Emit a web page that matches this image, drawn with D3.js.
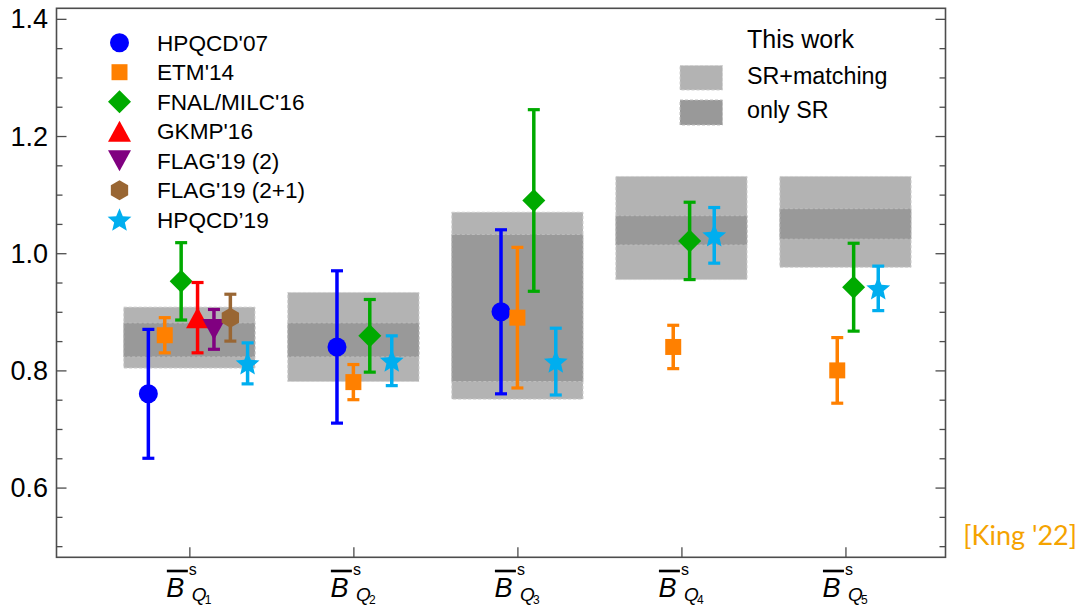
<!DOCTYPE html>
<html>
<head>
<meta charset="utf-8">
<script src="https://cdn.jsdelivr.net/npm/d3@7"></script>
<style>
  html, body { margin: 0; padding: 0; background: #fff; }
  svg { display: block; }
  text { font-family: "Liberation Sans", Arial, Helvetica, sans-serif; }
</style>
</head>
<body>
<svg id="chart" width="1081" height="606"></svg>
<script>
// ---- data -------------------------------------------------------------
const categories = [1, 2, 3, 4, 5];            // Q1 ... Q5
const yTicksMajor = [0.6, 0.8, 1.0, 1.2, 1.4];
const yTicksMinor = [0.5, 0.55, 0.65, 0.7, 0.75, 0.85, 0.9, 0.95, 1.05, 1.1, 1.15, 1.25, 1.3, 1.35];

// "This work": SR+matching band and only-SR band per operator
const bandFullLo = [0.804, 0.781, 0.751, 0.955, 0.976];
const bandFullHi = [0.908, 0.933, 1.070, 1.131, 1.131];
const bandSrLo   = [0.823, 0.823, 0.781, 1.014, 1.024];
const bandSrHi   = [0.881, 0.881, 1.032, 1.064, 1.076];

// literature results: category, horizontal offset, value, error
const hpqcd07Cat = [1, 2, 3];
const hpqcd07Off = [-0.25, -0.10, -0.10];
const hpqcd07Val = [0.76, 0.84, 0.90];
const hpqcd07Err = [0.11, 0.13, 0.14];

const etm14Cat = [1, 2, 3, 4, 5];
const etm14Off = [-0.15, 0.0, 0.0, -0.05, -0.05];
const etm14Val = [0.86, 0.78, 0.89, 0.84, 0.80];
const etm14Err = [0.03, 0.03, 0.12, 0.037, 0.056];

const fnal16Cat = [1, 2, 3, 4, 5];
const fnal16Off = [-0.05, 0.10, 0.10, 0.05, 0.05];
const fnal16Val = [0.952, 0.859, 1.09, 1.021, 0.942];
const fnal16Err = [0.066, 0.062, 0.155, 0.066, 0.075];

const gkmp16Cat = [1];
const gkmp16Off = [0.05];
const gkmp16Val = [0.89];
const gkmp16Err = [0.06];

const flag2Cat = [1];
const flag2Off = [0.15];
const flag2Val = [0.87];
const flag2Err = [0.034];

const flag21Cat = [1];
const flag21Off = [0.25];
const flag21Val = [0.89];
const flag21Err = [0.04];

const hpqcd19Cat = [1, 2, 3, 4, 5];
const hpqcd19Off = [0.355, 0.234, 0.234, 0.20, 0.20];
const hpqcd19Val = [0.812, 0.8165, 0.815, 1.0305, 0.94];
const hpqcd19Err = [0.035, 0.0425, 0.057, 0.0475, 0.038];

const seriesNames  = ["HPQCD'07", "ETM'14", "FNAL/MILC'16", "GKMP'16", "FLAG'19 (2)", "FLAG'19 (2+1)", "HPQCD\u201919"];
const seriesColors = ["#0000ff", "#ff8000", "#00aa00", "#ff0000", "#800080", "#996633", "#00aeef"];
const seriesShapes = ["circle", "square", "diamond", "triUp", "triDown", "hexagon", "star"];

const seriesData = [
  [hpqcd07Cat, hpqcd07Off, hpqcd07Val, hpqcd07Err],
  [etm14Cat, etm14Off, etm14Val, etm14Err],
  [fnal16Cat, fnal16Off, fnal16Val, fnal16Err],
  [gkmp16Cat, gkmp16Off, gkmp16Val, gkmp16Err],
  [flag2Cat, flag2Off, flag2Val, flag2Err],
  [flag21Cat, flag21Off, flag21Val, flag21Err],
  [hpqcd19Cat, hpqcd19Off, hpqcd19Val, hpqcd19Err]
];

// ---- layout -----------------------------------------------------------
const svg = d3.select("#chart");
const plotL = 56.5, plotR = 945.5, plotT = 8.3, plotB = 557.3;

const x = d3.scaleLinear().domain([0.19, 5.61]).range([plotL, plotR]);
const y = d3.scaleLinear().domain([0.481, 1.418]).range([plotB, plotT]);

const halfBox = 0.4;

// marker paths centred at the origin
function markerPath(shape) {
  switch (shape) {
    case "circle": {
      const r = 9.5;
      return `M${r},0A${r},${r} 0 1,1 ${-r},0A${r},${r} 0 1,1 ${r},0Z`;
    }
    case "square": {
      const h = 8;
      return `M${-h},${-h}L${h},${-h}L${h},${h}L${-h},${h}Z`;
    }
    case "diamond": {
      const h = 11.5;
      return `M0,${-h}L${h},0L0,${h}L${-h},0Z`;
    }
    case "triUp": {
      const w = 11.5, h = 10.5;
      return `M0,${-h}L${w},${h}L${-w},${h}Z`;
    }
    case "triDown": {
      const w = 11.5, h = 10.5;
      return `M0,${h}L${w},${-h}L${-w},${-h}Z`;
    }
    case "hexagon": {
      const r = 10;
      const pts = d3.range(6).map(i => {
        const a = -Math.PI / 2 + i * Math.PI / 3;
        return [r * Math.cos(a), r * Math.sin(a)];
      });
      return "M" + pts.map(p => p.join(",")).join("L") + "Z";
    }
    case "star": {
      const R = 12.5, r0 = R * 0.45;
      const pts = d3.range(10).map(i => {
        const a = -Math.PI / 2 + i * Math.PI / 5;
        const rr = i % 2 === 0 ? R : r0;
        return [rr * Math.cos(a), rr * Math.sin(a) + 1];
      });
      return "M" + pts.map(p => p.join(",")).join("L") + "Z";
    }
  }
}

// ---- bands ------------------------------------------------------------
const bands = svg.append("g");
categories.forEach((c, i) => {
  bands.append("rect")
    .attr("x", x(c - halfBox)).attr("width", x(c + halfBox) - x(c - halfBox))
    .attr("y", y(bandFullHi[i])).attr("height", y(bandFullLo[i]) - y(bandFullHi[i]))
    .attr("fill", "#b3b3b3")
    .attr("stroke", "#d0d0d0").attr("stroke-width", 1).attr("stroke-dasharray", "3,2");
  bands.append("rect")
    .attr("x", x(c - halfBox)).attr("width", x(c + halfBox) - x(c - halfBox))
    .attr("y", y(bandSrHi[i])).attr("height", y(bandSrLo[i]) - y(bandSrHi[i]))
    .attr("fill", "#999999")
    .attr("stroke", "#bdbdbd").attr("stroke-width", 1).attr("stroke-dasharray", "3,2");
});

// ---- error bars + markers --------------------------------------------
const pts = svg.append("g");
seriesData.forEach((s, k) => {
  const [cats, offs, vals, errs] = s;
  const col = seriesColors[k];
  cats.forEach((c, j) => {
    const px = x(c + offs[j]);
    const yTop = y(vals[j] + errs[j]), yBot = y(vals[j] - errs[j]);
    const g = pts.append("g");
    g.append("line").attr("x1", px).attr("x2", px).attr("y1", yTop).attr("y2", yBot)
      .attr("stroke", col).attr("stroke-width", 3.5);
    [yTop, yBot].forEach(yy => {
      g.append("line").attr("x1", px - 6).attr("x2", px + 6).attr("y1", yy).attr("y2", yy)
        .attr("stroke", col).attr("stroke-width", 3.2);
    });
    g.append("path").attr("d", markerPath(seriesShapes[k]))
      .attr("transform", `translate(${px},${y(vals[j])})`)
      .attr("fill", col);
  });
});

// ---- axes frame -------------------------------------------------------
const axisCol = "#4d4d4d";
const frame = svg.append("g");
frame.append("rect")
  .attr("x", plotL).attr("y", plotT).attr("width", plotR - plotL).attr("height", plotB - plotT)
  .attr("fill", "none").attr("stroke", axisCol).attr("stroke-width", 1.6);

function styleTicks(g) {
  g.select(".domain").remove();
  g.selectAll("line").attr("stroke", axisCol).attr("stroke-width", 1.3);
}

// left axis (ticks pointing inward)
frame.append("g").attr("transform", `translate(${plotL},0)`)
  .call(d3.axisRight(y).tickValues(yTicksMajor).tickSize(10).tickFormat("")).call(styleTicks);
frame.append("g").attr("transform", `translate(${plotL},0)`)
  .call(d3.axisRight(y).tickValues(yTicksMinor).tickSize(6).tickFormat("")).call(styleTicks);

// right axis (mirrored)
frame.append("g").attr("transform", `translate(${plotR},0)`)
  .call(d3.axisLeft(y).tickValues(yTicksMajor).tickSize(10).tickFormat("")).call(styleTicks);
frame.append("g").attr("transform", `translate(${plotR},0)`)
  .call(d3.axisLeft(y).tickValues(yTicksMinor).tickSize(6).tickFormat("")).call(styleTicks);

// bottom ticks at each operator
frame.append("g").attr("transform", `translate(0,${plotB})`)
  .call(d3.axisTop(x).tickValues(categories).tickSize(10).tickFormat("")).call(styleTicks);

// y tick labels
const yLab = svg.append("g");
yTicksMajor.forEach(v => {
  yLab.append("text")
    .attr("x", 48).attr("y", y(v) + 9.5)
    .attr("text-anchor", "end")
    .attr("font-size", 27).attr("fill", "#000")
    .text(d3.format(".1f")(v));
});

// x tick labels: B-bar with superscript s and subscript Q_i
const xLab = svg.append("g");
categories.forEach(c => {
  const cx = x(c);
  xLab.append("line")
    .attr("x1", cx - 22.5).attr("x2", cx - 1.5).attr("y1", 571).attr("y2", 571)
    .attr("stroke", "#000").attr("stroke-width", 2.6);
  xLab.append("text").attr("x", cx - 23).attr("y", 597)
    .attr("font-size", 27).attr("font-style", "italic").text("B");
  xLab.append("text").attr("x", cx - 0.5).attr("y", 575)
    .attr("font-size", 16).text("s");
  xLab.append("text").attr("x", cx + 2.5).attr("y", 600.5)
    .attr("font-size", 19).attr("font-style", "italic").text("Q");
  xLab.append("text").attr("x", cx + 15.5).attr("y", 603.5)
    .attr("font-size", 12).text(String(c));
});

// ---- legend (literature) ---------------------------------------------
const leg = svg.append("g");
seriesNames.forEach((name, k) => {
  const cy = 42.7 + k * 29.5;
  leg.append("path").attr("d", markerPath(seriesShapes[k]))
    .attr("transform", `translate(119.5,${cy})`).attr("fill", seriesColors[k]);
  leg.append("text").attr("x", 157).attr("y", cy + 8)
    .attr("font-size", 22.6).attr("fill", "#000").text(name);
});

// ---- legend (this work) ----------------------------------------------
const leg2 = svg.append("g");
leg2.append("text").attr("x", 747).attr("y", 48).attr("font-size", 25).text("This work");
leg2.append("rect").attr("x", 680).attr("y", 65.5).attr("width", 42.5).attr("height", 24.5)
  .attr("fill", "#b3b3b3").attr("stroke", "#d0d0d0").attr("stroke-dasharray", "3,2");
leg2.append("text").attr("x", 747).attr("y", 84).attr("font-size", 23.3).text("SR+matching");
leg2.append("rect").attr("x", 680).attr("y", 100).attr("width", 42.5).attr("height", 25)
  .attr("fill", "#999999").attr("stroke", "#bdbdbd").attr("stroke-dasharray", "3,2");
leg2.append("text").attr("x", 747).attr("y", 118).attr("font-size", 23.3).text("only SR");

// ---- citation tag ------------------------------------------------------
svg.append("text").attr("x", 1077).attr("y", 545)
  .attr("text-anchor", "end")
  .style("font-family", "Lato, 'Open Sans', sans-serif")
  .attr("font-size", 27).attr("fill", "#f5a300")
  .text("[King '22]");
</script>
</body>
</html>
